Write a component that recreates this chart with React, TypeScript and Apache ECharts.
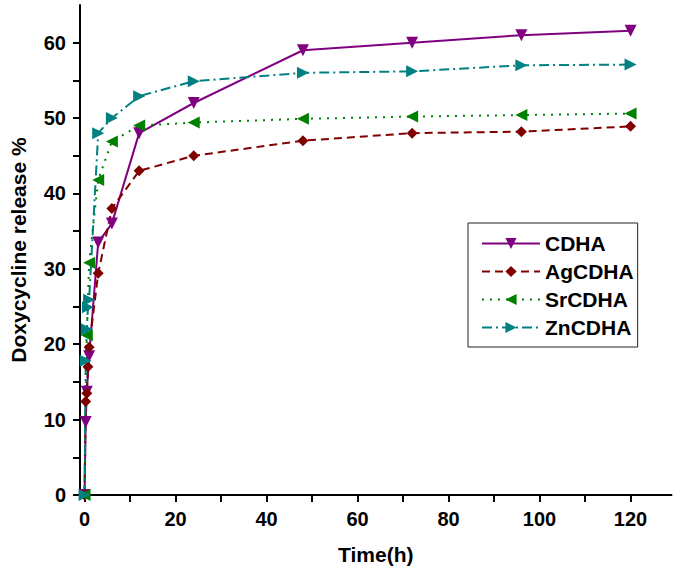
import React, { useEffect, useRef } from "react";
import * as echarts from "echarts";

const seriesNames = ["CDHA", "AgCDHA", "SrCDHA", "ZnCDHA"];

const cdhaTime = [0, 0.25, 0.5, 1, 3, 6, 12, 24, 48, 72, 96, 120];
const cdhaRelease = [0, 9.7, 13.7, 18.4, 33.5, 36.0, 48.0, 52.0, 59.0, 60.0, 61.0, 61.6];

const agTime = [0, 0.25, 0.5, 0.75, 1, 3, 6, 12, 24, 48, 72, 96, 120];
const agRelease = [0, 12.4, 13.5, 17.0, 19.6, 29.4, 38.0, 43.0, 45.0, 47.0, 48.0, 48.2, 48.9];

const srTime = [0, 0.5, 1, 3, 6, 12, 24, 48, 72, 96, 120];
const srRelease = [0, 21.2, 30.8, 41.8, 46.9, 49.0, 49.4, 49.9, 50.2, 50.4, 50.6];

const znTime = [0, 0.25, 0.5, 0.75, 1, 3, 6, 12, 24, 48, 72, 96, 120];
const znRelease = [0, 17.8, 22.0, 24.9, 25.9, 48.0, 50.0, 52.9, 54.9, 56.0, 56.2, 57.0, 57.1];

const xTickValues = [0, 10, 20, 30, 40, 50, 60, 70, 80, 90, 100, 110, 120];
const xLabelValues = [0, 20, 40, 60, 80, 100, 120];
const yTickValues = [0, 5, 10, 15, 20, 25, 30, 35, 40, 45, 50, 55, 60];
const yLabelValues = [0, 10, 20, 30, 40, 50, 60];

const zip = (xs: number[], ys: number[]) => xs.map((x, i) => [x, ys[i]]);

const FONT = "Arial, 'Liberation Sans', sans-serif";

export default function App() {
  const ref = useRef<HTMLDivElement>(null);

  useEffect(() => {
    if (!ref.current) return;
    const chart = echarts.init(ref.current, null, { renderer: "svg" });

    const axisCommon = {
      axisLine: { show: true, onZero: false, lineStyle: { color: "#000", width: 2 } },
      splitLine: { show: false },
    };

    const mk = (
      name: string,
      data: number[][],
      color: string,
      symbol: string,
      rotate: number,
      type: any,
      size: number
    ) => ({
      name,
      type: "line",
      data,
      symbol,
      symbolRotate: rotate,
      symbolSize: size,
      showAllSymbol: true,
      lineStyle: { color, width: 2, type },
      itemStyle: { color },
    });

    chart.setOption({
      animation: false,
      backgroundColor: "#fff",
      grid: { left: 75.5, right: 14.5, top: 5, bottom: 80, containLabel: false },
      legend: {
        orient: "vertical",
        left: 468,
        top: 223,
        padding: [10, 4, 9, 13],
        itemWidth: 58,
        itemHeight: 14,
        itemGap: 7,
        borderColor: "#222",
        borderWidth: 1,
        data: seriesNames,
        textStyle: {
          color: "#000",
          fontSize: 21,
          fontWeight: "bold",
          fontFamily: FONT,
          lineHeight: 21,
        },
      },
      xAxis: {
        type: "value",
        min: -1,
        max: 129,
        name: "Time(h)",
        nameLocation: "middle",
        nameGap: 49,
        nameTextStyle: { color: "#000", fontSize: 21, fontWeight: "bold", fontFamily: FONT },
        ...axisCommon,
        axisTick: {
          show: true,
          inside: false,
          length: 7,
          customValues: xTickValues,
          lineStyle: { color: "#000", width: 2 },
        },
        axisLabel: {
          customValues: xLabelValues,
          margin: 14,
          color: "#000",
          fontSize: 20,
          fontWeight: "bold",
          fontFamily: FONT,
        },
      },
      yAxis: {
        type: "value",
        min: 0,
        max: 65,
        name: "Doxycycline release %",
        nameLocation: "middle",
        nameGap: 51,
        nameTextStyle: { color: "#000", fontSize: 21, fontWeight: "bold", fontFamily: FONT },
        ...axisCommon,
        axisTick: {
          show: true,
          inside: false,
          length: 7,
          customValues: yTickValues,
          lineStyle: { color: "#000", width: 2 },
        },
        axisLabel: {
          customValues: yLabelValues,
          margin: 14,
          color: "#000",
          fontSize: 20,
          fontWeight: "bold",
          fontFamily: FONT,
        },
      },
      series: [
        mk(seriesNames[0], zip(cdhaTime, cdhaRelease), "#800080", "triangle", 180, "solid", 12),
        mk(seriesNames[1], zip(agTime, agRelease), "#800000", "diamond", 0, [8, 5], 11),
        mk(seriesNames[2], zip(srTime, srRelease), "#008000", "triangle", 90, [2, 6], 12),
        mk(seriesNames[3], zip(znTime, znRelease), "#008080", "triangle", -90, [10, 4, 2, 4], 12),
      ],
    });

    return () => chart.dispose();
  }, []);

  return (
    <div
      ref={ref}
      style={{ position: "fixed", left: 0, top: 0, width: 686, height: 575, background: "#fff" }}
    />
  );
}
